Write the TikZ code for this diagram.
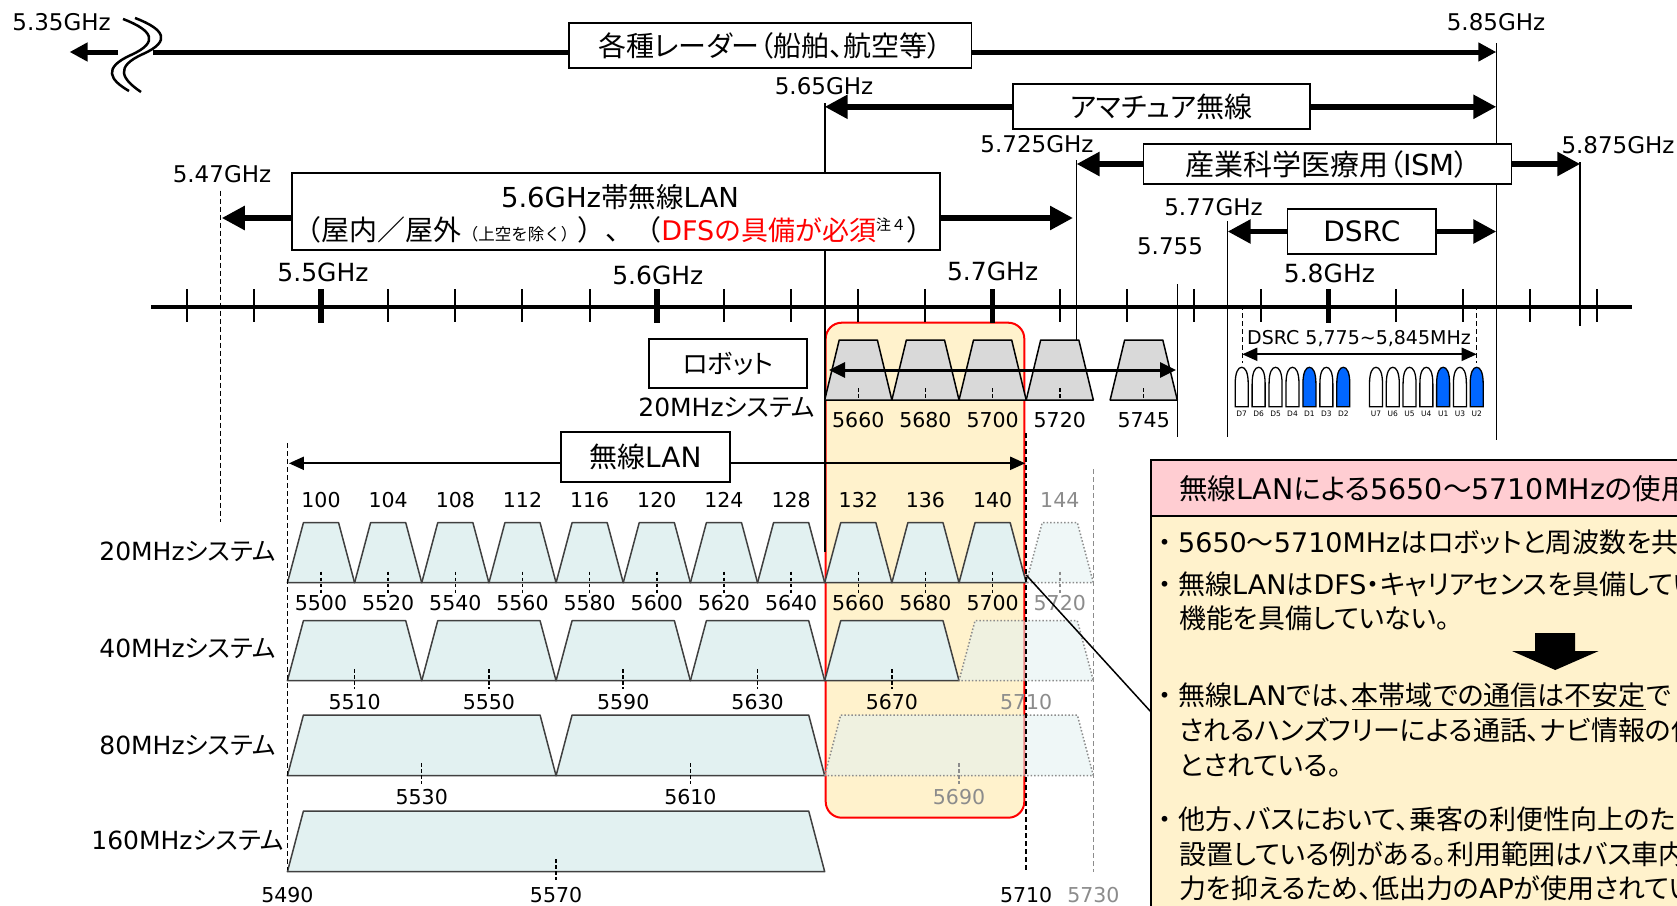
\documentclass[tikz,border=0pt]{standalone}
\usepackage{fontspec}
\setmainfont{DejaVu Sans}
\newfontfamily\jp[RawFeature=+palt]{Noto Sans CJK JP}
\newfontfamily\jpn{Noto Sans CJK JP}
\usetikzlibrary{arrows.meta}
\newcommand\fsz[1]{\fontsize{#1}{#1}\selectfont}
\newcommand\trapz[6][]{\draw[#1] ({fx(#2)},#5) -- ({fx(#2)+#6},#4) -- ({fx(#3)-#6},#4) -- ({fx(#3)},#5) -- cycle;}
\definecolor{hlyellow}{HTML}{FFF2CC}
\definecolor{chfill}{HTML}{E2F1F1}
\definecolor{chline}{HTML}{404040}
\definecolor{robgray}{HTML}{D9D9D9}
\definecolor{hdpink}{HTML}{FFCDD2}
\definecolor{dsblue}{HTML}{0066FF}
\definecolor{txgray}{HTML}{8C8C8C}
\begin{document}
\begin{tikzpicture}[x=1pt,y=-1pt,
 declare function={fx(\q)=321+3.358*(\q-5500);},
 lbl/.style={inner sep=0pt,font=\fsz{23}},
 axl/.style={inner sep=0pt,font=\fsz{25}},
 num/.style={inner sep=0pt,font=\fsz{20.5}},
 gnum/.style={num,text=txgray},
 rowl/.style={inner sep=0pt,font=\fsz{25}},
 bx/.style={draw,line width=1.8pt,fill=white,inner sep=0pt},
 vl/.style={line width=1.6pt},
 dl/.style={line width=1.5pt,dash pattern=on 5pt off 3pt},
 gdl/.style={dl,draw=txgray},
 bigarr/.style={line width=5.5pt,-{Triangle[length=23pt,width=23pt]}},
 radarr/.style={line width=5pt,-{Triangle[length=18pt,width=18pt]}},
 robarr/.style={line width=3pt,{Triangle[length=16pt,width=15pt]}-{Triangle[length=16pt,width=15pt]}},
 thinarr/.style={line width=2pt,{Triangle[length=15pt,width=13pt]}-{Triangle[length=15pt,width=13pt]}},
 chan/.style={draw=chline,fill=chfill,line width=1.5pt,line join=round},
 chdot/.style={draw=txgray,dotted,line width=1.5pt,fill=chfill,fill opacity=0.55},
 rob/.style={draw=black,fill=robgray,line width=1.5pt,line join=round},
 ctick/.style={line width=1.5pt,dash pattern=on 3.5pt off 2.5pt},
 gtick/.style={ctick,draw=txgray},
 txt/.style={inner sep=0pt,anchor=west,font=\fsz{27}},
 dsb/.style={line width=1.3pt,draw=black},
]
\useasboundingbox (0,0) rectangle (1677,905);
\fill[white] (0,0) rectangle (1677,905);
\clip (0,0) rectangle (1677,905);

% highlight box
\draw[red,line width=2pt,fill=hlyellow,rounded corners=16pt] (825.7,322.7) rectangle (1024.3,817.7);

% named coordinates
\coordinate (tipRadL) at (69.6,52);
\coordinate (brkL) at (118,52);
\coordinate (brkR) at (153,52);
\coordinate (tipRadR) at ({fx(5850)},52);
\coordinate (tipAmaL) at ({fx(5650)},106.8);
\coordinate (tipAmaR) at ({fx(5850)},106.8);
\coordinate (tipIsmL) at ({fx(5725)},164);
\coordinate (tipIsmR) at ({fx(5875)},164);
\coordinate (tipDsL) at ({fx(5770)},231.5);
\coordinate (tipDsR) at ({fx(5850)},231.5);
\coordinate (tipWlL) at ({fx(5470)+1.5},218);
\coordinate (tipWlR) at (1073,218);

% vertical marker lines
\draw[dl] ({fx(5470)},190.7) -- ({fx(5470)},521.7);
\draw[vl] ({fx(5650)},103) -- ({fx(5650)},552);
\draw[vl] ({fx(5725)},160) -- ({fx(5725)},340);
\draw[vl] ({fx(5755)},284) -- ({fx(5755)},437);
\draw[vl] ({fx(5770)},221) -- ({fx(5770)},437);
\draw[vl] ({fx(5850)},43) -- ({fx(5850)},440);
\draw[vl] ({fx(5875)},162) -- ({fx(5875)},326);
\draw[dl] (1242.3,305) -- (1242.3,363);
\draw[dl] (1476.7,305) -- (1476.7,363);

% break symbol
\draw[line width=2.5pt] (123,19) .. controls (152,30) and (160,42) .. (131,55) .. controls (102,68) and (110,80) .. (129,91);
\draw[line width=2.5pt] (135,18) .. controls (164,29) and (172,41) .. (143,54) .. controls (114,67) and (122,79) .. (141,92);

% radar
\node[bx,minimum width=402.8pt,minimum height=45pt] (radar) at (770,45.8) {\jp\fsz{28}各種レーダー（船舶、航空等）};
\draw[radarr] (brkL) -- (tipRadL);
\draw[line width=5pt] (brkR) -- ([yshift=-6.2pt]radar.west);
\draw[radarr] ([yshift=-6.2pt]radar.east) -- (tipRadR);

% amateur
\node[bx,minimum width=296.6pt,minimum height=45pt] (ama) at (1161.3,106.8) {\jp\fsz{28}アマチュア無線};
\draw[bigarr] (ama.west) -- (tipAmaL);
\draw[bigarr] (ama.east) -- (tipAmaR);

% ISM
\node[bx,minimum width=368pt,minimum height=40pt] (ism) at (1327.5,164) {\fsz{29}{\jp 産業科学医療用（}ISM{\jp ）}};
\draw[bigarr] (ism.west) -- (tipIsmL);
\draw[bigarr] (ism.east) -- (tipIsmR);

% DSRC
\node[bx,minimum width=148.5pt,minimum height=45pt] (dsrc) at (1361.8,231.5) {\fsz{28}DSRC};
\draw[bigarr] (dsrc.west) -- (tipDsL);
\draw[bigarr] (dsrc.east) -- (tipDsR);

% 5.6GHz WLAN box
\node[bx,minimum width=648.3pt,minimum height=76.7pt] (w56) at (615.8,211.7) {};
\node[inner sep=0pt] (w56a) at (620,196.7) {\fsz{27.5}5.6GHz{\jp 帯無線}LAN};
\node[inner sep=0pt,anchor=base] (w56b) at (614,240.5) {\jpn\fsz{28}（屋内／屋外{\fsz{16.5}（上空を除く）}）、（{\color{red}\fsz{27}{\rmfamily DFS}の具備が必須}\raisebox{10pt}{\fsz{15}注４}）};
\draw[bigarr] ([yshift=-6.3pt]w56.west) -- (tipWlL);
\draw[bigarr] ([yshift=-6.3pt]w56.east) -- (tipWlR);

% top labels
\node[lbl] (l535) at (61.6,22) {5.35GHz};
\node[lbl] (l585) at (1496,22) {5.85GHz};
\node[lbl] (l565) at (824,86.5) {5.65GHz};
\node[lbl] (l5725) at (1037,144.5) {5.725GHz};
\node[lbl] (l5875) at (1618,145) {5.875GHz};
\node[lbl] (l547) at (222,174.5) {5.47GHz};
\node[lbl] (l577) at (1213.5,207.5) {5.77GHz};
\node[lbl] (l5755) at (1170,246) {5.755};

% axis
\draw[line width=4.5pt] (151,307) -- (1632,307);
\foreach \f in {5460,5480,...,5880}{\draw[line width=2pt] ({fx(\f)},289) -- ({fx(\f)},322);}
\foreach \f in {5500,5600,5700,5800}{\draw[line width=5.5pt] ({fx(\f)},289) -- ({fx(\f)},323);}
\node[axl] (a55) at ({fx(5500)+2},272.5) {5.5GHz};
\node[axl] (a56) at ({fx(5600)+1},275) {5.6GHz};
\node[axl] (a57) at ({fx(5700)},271) {5.7GHz};
\node[axl] (a58) at ({fx(5800)+1},273) {5.8GHz};

% robot row
\node[bx,minimum width=158pt,minimum height=48.7pt] (robot) at (728,363.4) {\jp\fsz{26}ロボット};
\node[rowl] (rr20) at (726.5,407) {20MHz{\jp システム}};
\foreach \fcen in {5660,5680,5700,5720,5745}{
  \pgfmathtruncatemacro\flo{\fcen-10}
  \pgfmathtruncatemacro\fhi{\fcen+10}
  \trapz[rob]{\flo}{\fhi}{340}{400}{14.5}
  \draw[ctick] ({fx(\fcen)},388) -- ({fx(\fcen)},400);
  \node[num] (rbf\fcen) at ({fx(\fcen)},420) {\fcen};
}
\coordinate (robL) at (829,370);
\coordinate (robR) at (1176,370);
\draw[robarr] (robL) -- (robR);

% DSRC channels
\node[inner sep=0pt,font=\fsz{19}] (dstxt) at (1359,338.3) {DSRC 5,775\textasciitilde 5,845MHz};
\coordinate (dsL) at (1242.3,354.3);
\coordinate (dsR) at (1476.7,354.3);
\draw[thinarr] (dsL) -- (dsR);
\foreach \lab/\bl [count=\k from 0] in {D7/white,D6/white,D5/white,D4/white,D1/dsblue,D3/white,D2/dsblue}{
  \pgfmathsetmacro\xx{1241.7+16.93*\k}
  \draw[dsb,fill=\bl] ({\xx-6.5},406.7) -- ({\xx-6.5},384) .. controls ({\xx-6.5},372) and ({\xx-3.5},367.3) .. (\xx,367.3) .. controls ({\xx+3.5},367.3) and ({\xx+6.5},372) .. ({\xx+6.5},384) -- ({\xx+6.5},406.7) -- cycle;
  \node[inner sep=0pt,font=\fsz{7.5}] (ds\lab) at (\xx,413.5) {\lab};
}
\foreach \lab/\bl [count=\k from 0] in {U7/white,U6/white,U5/white,U4/white,U1/dsblue,U3/white,U2/dsblue}{
  \pgfmathsetmacro\xx{1376+16.78*\k}
  \draw[dsb,fill=\bl] ({\xx-6.5},406.7) -- ({\xx-6.5},384) .. controls ({\xx-6.5},372) and ({\xx-3.5},367.3) .. (\xx,367.3) .. controls ({\xx+3.5},367.3) and ({\xx+6.5},372) .. ({\xx+6.5},384) -- ({\xx+6.5},406.7) -- cycle;
  \node[inner sep=0pt,font=\fsz{7.5}] (ds\lab) at (\xx,413.5) {\lab};
}

% WLAN label arrow
\coordinate (lanL) at ({fx(5490)+1.5},463.3);
\coordinate (lanR) at ({fx(5710)-1},463.3);
\draw[thinarr] (lanL) -- (lanR);
\node[bx,minimum width=168.8pt,minimum height=50pt] (lanbox) at (645.4,456.7) {\fsz{28}{\jp 無線}LAN};

% row labels
\node[rowl] (r20) at (187.5,551.7) {20MHz{\jp システム}};
\node[rowl] (r40) at (187.5,648) {40MHz{\jp システム}};
\node[rowl] (r80) at (187.5,745) {80MHz{\jp システム}};
\node[rowl] (r160) at (187.5,840) {160MHz{\jp システム}};

% 20MHz row
\foreach \cn [count=\k from 0] in {100,104,...,140}{
  \pgfmathtruncatemacro\fcen{5500+20*\k}
  \pgfmathtruncatemacro\flo{\fcen-10}
  \pgfmathtruncatemacro\fhi{\fcen+10}
  \trapz[chan]{\flo}{\fhi}{522.7}{582.7}{16}
  \draw[ctick] ({fx(\fcen)},571.7) -- ({fx(\fcen)},592.7);
  \node[num] (cha\cn) at ({fx(\fcen)},500) {\cn};
  \node[num] (fqa\fcen) at ({fx(\fcen)},603) {\fcen};
}
\trapz[chdot]{5710}{5730}{522.7}{582.7}{16}
\draw[gtick] ({fx(5720)},571.7) -- ({fx(5720)},592.7);
\node[gnum] (cha144) at ({fx(5720)},500) {144};
\node[gnum] (fqa5720) at ({fx(5720)},603) {5720};

% 40MHz row
\foreach \fcen in {5510,5550,5590,5630,5670}{
  \pgfmathtruncatemacro\flo{\fcen-20}
  \pgfmathtruncatemacro\fhi{\fcen+20}
  \trapz[chan]{\flo}{\fhi}{620.7}{680.7}{16}
  \draw[ctick] ({fx(\fcen)},669) -- ({fx(\fcen)},689);
  \node[num] (fqb\fcen) at ({fx(\fcen)},701.7) {\fcen};
}
\trapz[chdot]{5690}{5730}{620.7}{680.7}{16}
\node[gnum] (fqb5710) at ({fx(5710)},701.7) {5710};

% 80MHz row
\foreach \fcen in {5530,5610}{
  \pgfmathtruncatemacro\flo{\fcen-40}
  \pgfmathtruncatemacro\fhi{\fcen+40}
  \trapz[chan]{\flo}{\fhi}{715}{775.7}{16}
  \draw[ctick] ({fx(\fcen)},763) -- ({fx(\fcen)},784);
  \node[num] (fqc\fcen) at ({fx(\fcen)},796.7) {\fcen};
}
\trapz[chdot]{5650}{5730}{715}{775.7}{16}
\draw[gtick] ({fx(5690)},763) -- ({fx(5690)},784);
\node[gnum] (fqc5690) at ({fx(5690)},796.7) {5690};

% 160MHz row
\trapz[chan]{5490}{5650}{811}{871.7}{16}
\draw[ctick] ({fx(5570)},859) -- ({fx(5570)},880);
\node[num] (fqd5570) at ({fx(5570)},895) {5570};
\node[num] (fqd5490) at ({fx(5490)},895) {5490};
\node[num] (fqd5710) at ({fx(5710)},895) {5710};
\node[gnum] (fqd5730) at ({fx(5730)},895) {5730};

% dashed boundary lines
\draw[dl] ({fx(5490)},443) -- ({fx(5490)},870);
\draw[dl] ({fx(5710)},433) -- ({fx(5710)},870);
\draw[gdl] ({fx(5730)},469) -- ({fx(5730)},872);

% info box
\fill[hlyellow] (1151,515.7) rectangle (1690,915);
\fill[hdpink] (1151,460) rectangle (1690,515.7);
\draw[line width=1.8pt] (1690,460) -- (1151,460) -- (1151,915);
\draw[line width=2pt] (1151,515.7) -- (1690,515.7);
\node[inner sep=0pt,anchor=west,font=\fsz{28.5}] (hdr) at (1179,489) {{\jp 無線}LAN{\jp による}5650{\jp ～}5710MHz{\jp の使用}};
\node[txt] (t1) at (1151,542) {{\jpn ・}5650{\jp ～}5710MHz{\jp はロボットと周波数を共}};
\node[txt] (t2) at (1151,584) {{\jpn ・}{\jp 無線}LAN{\jp は}DFS{\jp ・キャリアセンスを具備してい}};
\node[txt] (t3) at (1179,618) {\jp 機能を具備していない。};
\fill (1535,633) -- (1575,633) -- (1575,651) -- (1598.7,651) -- (1555.3,670) -- (1512,651) -- (1535,651) -- cycle;
\node[txt] (t4) at (1151,696) {{\jpn ・}{\jp 無線}LAN{\jp では、\underline{本帯域での通信は不安定}で}};
\node[txt] (t5) at (1179,730) {\jp されるハンズフリーによる通話、ナビ情報の伝};
\node[txt] (t6) at (1179,766) {\jp とされている。};
\node[txt] (t7) at (1151,819) {{\jpn ・}{\jp 他方、バスにおいて、乗客の利便性向上のた}};
\node[txt] (t8) at (1179,854) {\jp 設置している例がある。利用範囲はバス車内};
\node[txt] (t9) at (1179,888) {{\jp 力を抑えるため、低出力の}AP{\jp が使用されてい}};

% connector from 5710 to info box
\coordinate (c140R) at ({fx(5710)},575);
\coordinate (infoP) at (1151,712);
\draw[line width=1.5pt] (c140R) -- (infoP);
\end{tikzpicture}
\end{document}
